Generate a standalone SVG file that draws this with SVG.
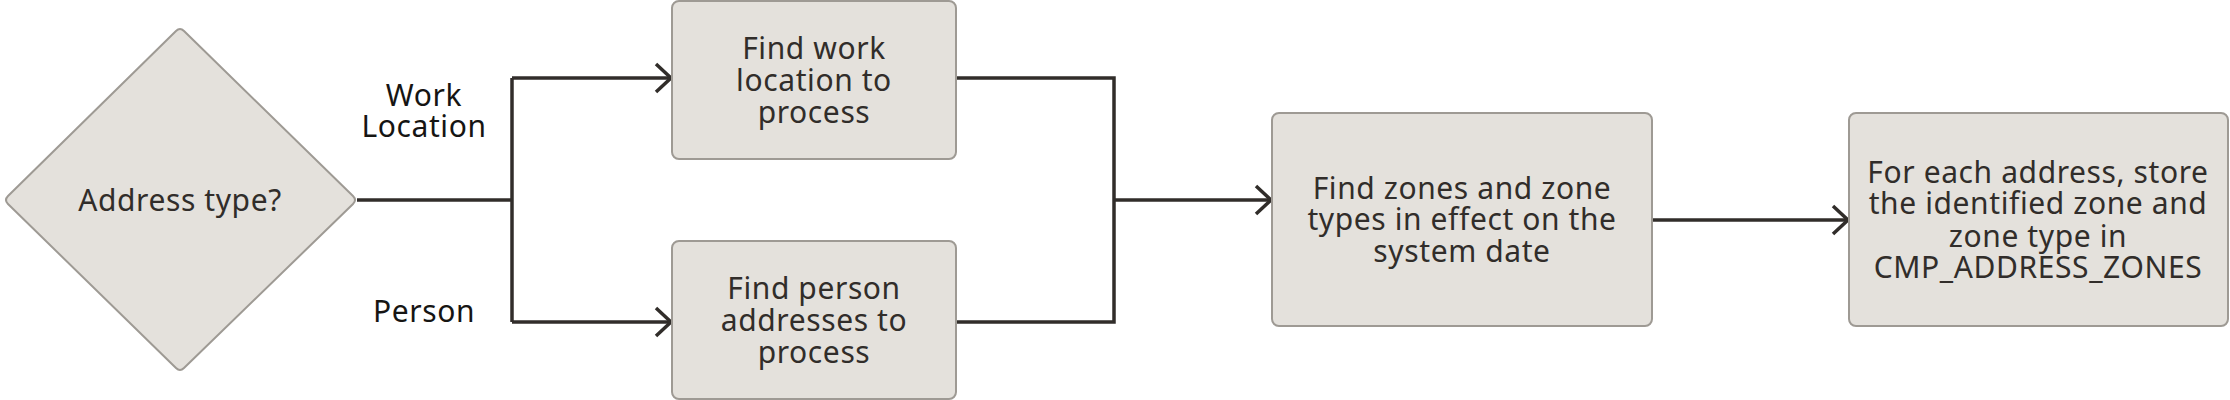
<svg xmlns="http://www.w3.org/2000/svg" width="2230" height="400" viewBox="0 0 2230 400">
<style>
.node{fill:#e4e1dc;stroke:#9e9a94;stroke-width:2}
.t{font-family:"Noto Sans","Open Sans",sans-serif;font-size:30px;letter-spacing:0.6px;fill:#312d2a;text-anchor:middle}
.lbl{font-family:"Noto Sans","Open Sans",sans-serif;font-size:30px;letter-spacing:0.6px;fill:#161513;text-anchor:middle}
.c{fill:none;stroke:#312d2a;stroke-width:3.5}
</style>
<defs>
<marker id="arr" markerUnits="userSpaceOnUse" markerWidth="20" markerHeight="34" refX="17" refY="16" orient="auto" viewBox="0 0 20 34">
<path d="M2,2 L17,16 L2,30" fill="none" stroke="#312d2a" stroke-width="3.5"/>
</marker>
</defs>
<rect width="2230" height="400" fill="#ffffff"/>
<g id="connectors">
<path class="c" d="M357,200 H512"/>
<path class="c" d="M512,78 V322"/>
<path class="c" d="M512,78 H671" marker-end="url(#arr)"/>
<path class="c" d="M512,322 H671" marker-end="url(#arr)"/>
<path class="c" d="M956,78 H1114 V322 H956"/>
<path class="c" d="M1114,200 H1271" marker-end="url(#arr)"/>
<path class="c" d="M1652,220 H1848" marker-end="url(#arr)"/>
</g>
<g id="labels">
<text class="lbl" x="424" y="106">Work</text>
<text class="lbl" x="424" y="137">Location</text>
<text class="lbl" x="424" y="322">Person</text>
</g>
<g id="decision">
<path class="node" d="M8,204 Q4,200 8,196 L176,31 Q180,27 184,31 L353,196 Q357,200 353,204 L184,368 Q180,372 176,368 Z"/>
<text class="t" x="180" y="211">Address type?</text>
</g>
<g id="work-location">
<rect class="node" x="672" y="1" width="284" height="158" rx="7"/>
<text class="t" x="814" y="59">Find work</text>
<text class="t" x="814" y="91">location to</text>
<text class="t" x="814" y="123">process</text>
</g>
<g id="person-addresses">
<rect class="node" x="672" y="241" width="284" height="158" rx="7"/>
<text class="t" x="814" y="299">Find person</text>
<text class="t" x="814" y="331">addresses to</text>
<text class="t" x="814" y="363">process</text>
</g>
<g id="find-zones">
<rect class="node" x="1272" y="113" width="380" height="213" rx="7"/>
<text class="t" x="1462" y="199">Find zones and zone</text>
<text class="t" x="1462" y="230">types in effect on the</text>
<text class="t" x="1462" y="262">system date</text>
</g>
<g id="store-zones">
<rect class="node" x="1849" y="113" width="379" height="213" rx="7"/>
<text class="t" x="2038" y="183">For each address, store</text>
<text class="t" x="2038" y="214">the identified zone and</text>
<text class="t" x="2038" y="247">zone type in</text>
<text class="t" x="2038" y="278">CMP_ADDRESS_ZONES</text>
</g>
</svg>
